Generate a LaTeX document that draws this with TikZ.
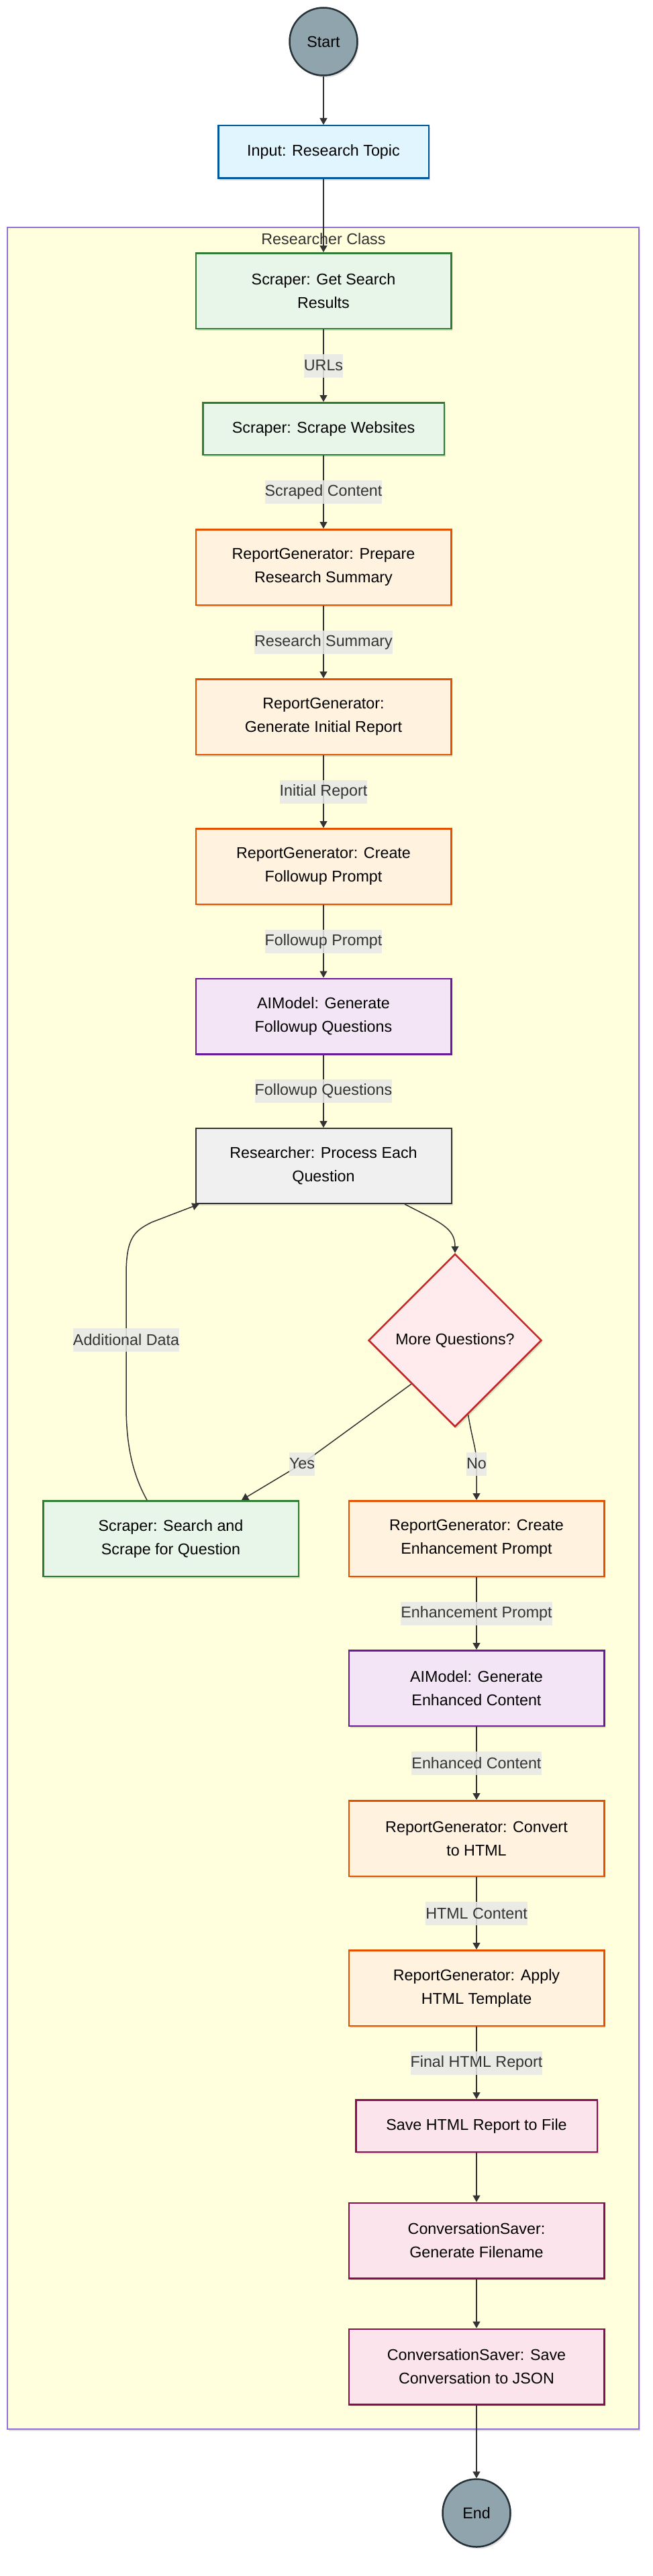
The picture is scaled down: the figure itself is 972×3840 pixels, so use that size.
\documentclass[tikz,border=0pt]{standalone}
\usepackage{fontspec}
\setmainfont{Liberation Sans}
\usetikzlibrary{shapes.geometric,arrows.meta,shadows,calc}
\definecolor{inputfill}{HTML}{E1F5FE}\definecolor{inputdraw}{HTML}{01579B}
\definecolor{scrfill}{HTML}{E8F5E9}\definecolor{scrdraw}{HTML}{2E7D32}
\definecolor{rgfill}{HTML}{FFF3E0}\definecolor{rgdraw}{HTML}{E65100}
\definecolor{aifill}{HTML}{F3E5F5}\definecolor{aidraw}{HTML}{6A1B9A}
\definecolor{savefill}{HTML}{FCE4EC}\definecolor{savedraw}{HTML}{880E4F}
\definecolor{decfill}{HTML}{FFEBEE}\definecolor{decdraw}{HTML}{C62828}
\definecolor{procfill}{HTML}{F0F0F0}\definecolor{procdraw}{HTML}{333333}
\definecolor{termfill}{HTML}{90A4AE}\definecolor{termdraw}{HTML}{263238}
\definecolor{clfill}{HTML}{FFFFDE}\definecolor{cldraw}{HTML}{9370DB}
\definecolor{lblfill}{HTML}{E8E8E8}\definecolor{edgecol}{HTML}{333333}
\begin{document}
\begin{tikzpicture}[x=1pt,y=-1pt,
  font=\fontsize{23.3}{35}\selectfont,
  shad/.style={drop shadow={shadow xshift=2pt,shadow yshift=-3pt,fill=black,opacity=0.13}},
  base/.style={shad,draw,line width=2.5pt,align=center,inner sep=0pt,text=black},
  wbox/.style={base,rectangle,minimum width=380.5pt,minimum height=112.5pt},
  sbox/.style={base,rectangle,minimum width=359.5pt,minimum height=77.5pt},
  term/.style={base,circle,minimum size=101pt,fill=termfill,draw=termdraw},
  scr/.style={fill=scrfill,draw=scrdraw},
  rg/.style={fill=rgfill,draw=rgdraw},
  ai/.style={fill=aifill,draw=aidraw},
  sav/.style={fill=savefill,draw=savedraw},
  conn/.style={draw=edgecol,line width=1.5pt,-{Triangle[length=10pt,width=11pt]}},
  elabel/.style={fill=lblfill,fill opacity=0.85,text opacity=1,text=edgecol,inner sep=0pt,minimum height=35pt}
]
\useasboundingbox (0,0) rectangle (972,3840);
% cluster
\node[shad,draw=cldraw,fill=clfill,line width=1.3pt,minimum width=941pt,minimum height=3282pt,inner sep=0pt] (cluster) at (481.5,1980) {};
\node[text=edgecol,inner sep=0pt] (cltitle) at (482,356) {Researcher Class};
% nodes
\node[term] (start) at (482,62) {Start};
\node[base,rectangle,minimum width=313.5pt,minimum height=78.5pt,fill=inputfill,draw=inputdraw] (input) at (482,226.5) {Input: Research Topic};
\node[wbox,scr] (search) at (482,433.5) {Scraper: Get Search\\Results};
\node[sbox,scr] (scrape) at (482,639) {Scraper: Scrape Websites};
\node[wbox,rg] (prepare) at (482,845.5) {ReportGenerator: Prepare\\Research Summary};
\node[wbox,rg] (initial) at (482,1068.5) {ReportGenerator:\\Generate Initial Report};
\node[wbox,rg] (fprompt) at (482,1291.5) {ReportGenerator: Create\\Followup Prompt};
\node[wbox,ai] (aiq) at (482,1515) {AIModel: Generate\\Followup Questions};
\node[wbox,line width=2pt,minimum width=381pt,minimum height=112pt,fill=procfill,draw=procdraw] (process) at (482,1738) {Researcher: Process Each\\Question};
\node[base,diamond,aspect=1,minimum size=258pt,fill=decfill,draw=decdraw] (decision) at (678,1998) {More Questions?};
\node[wbox,scr] (scrapeq) at (254.5,2293.5) {Scraper: Search and\\Scrape for Question};
\node[wbox,rg] (enhprompt) at (710,2293.5) {ReportGenerator: Create\\Enhancement Prompt};
\node[wbox,ai] (aienh) at (710,2516.5) {AIModel: Generate\\Enhanced Content};
\node[wbox,rg] (convert) at (710,2740.5) {ReportGenerator: Convert\\to HTML};
\node[wbox,rg] (apply) at (710,2963.5) {ReportGenerator: Apply\\HTML Template};
\node[sbox,sav] (savehtml) at (710,3169) {Save HTML Report to File};
\node[wbox,sav] (filename) at (710,3340) {ConversationSaver:\\Generate Filename};
\node[wbox,sav] (savejson) at (710,3528) {ConversationSaver: Save\\Conversation to JSON};
\node[term] (end) at (710,3746) {End};
% connectors
\draw[conn] (start) -- (input);
\draw[conn] (input) -- (search);
\draw[conn] (search) -- node[elabel] (l1) {URLs} (scrape);
\draw[conn] (scrape) -- node[elabel] (l2) {Scraped Content} (prepare);
\draw[conn] (prepare) -- node[elabel] (l3) {Research Summary} (initial);
\draw[conn] (initial) -- node[elabel] (l4) {Initial Report} (fprompt);
\draw[conn] (fprompt) -- node[elabel] (l5) {Followup Prompt} (aiq);
\draw[conn] (aiq) -- node[elabel] (l6) {Followup Questions} (process);
\draw[conn] ([xshift=121pt]process.south) .. controls (655,1822) and (678,1830) .. (decision.north);
\draw[conn] (decision.south west) -- node[elabel,pos=1] (lyes) {Yes} (450,2182) -- ([xshift=105.5pt]scrapeq.north);
\draw[conn] ($(decision.south)!0.15!(decision.east)$) .. controls (704,2148) and (710,2160) .. (710,2182) -- node[elabel,at start] (lno) {No} (enhprompt.north);
\draw[conn] ([xshift=-35.5pt]scrapeq.north) .. controls (196,2195) and (188,2150) .. (188,2095) -- node[elabel] (ladd) {Additional Data} (188,1900) .. controls (188,1845) and (200,1835) .. (226,1822) -- ([xshift=6pt]process.south west);
\draw[conn] (enhprompt) -- node[elabel] (l7) {Enhancement Prompt} (aienh);
\draw[conn] (aienh) -- node[elabel] (l8) {Enhanced Content} (convert);
\draw[conn] (convert) -- node[elabel] (l9) {HTML Content} (apply);
\draw[conn] (apply) -- node[elabel] (l10) {Final HTML Report} (savehtml);
\draw[conn] (savehtml) -- (filename);
\draw[conn] (filename) -- (savejson);
\draw[conn] (savejson) -- (end);
\end{tikzpicture}
\end{document}
